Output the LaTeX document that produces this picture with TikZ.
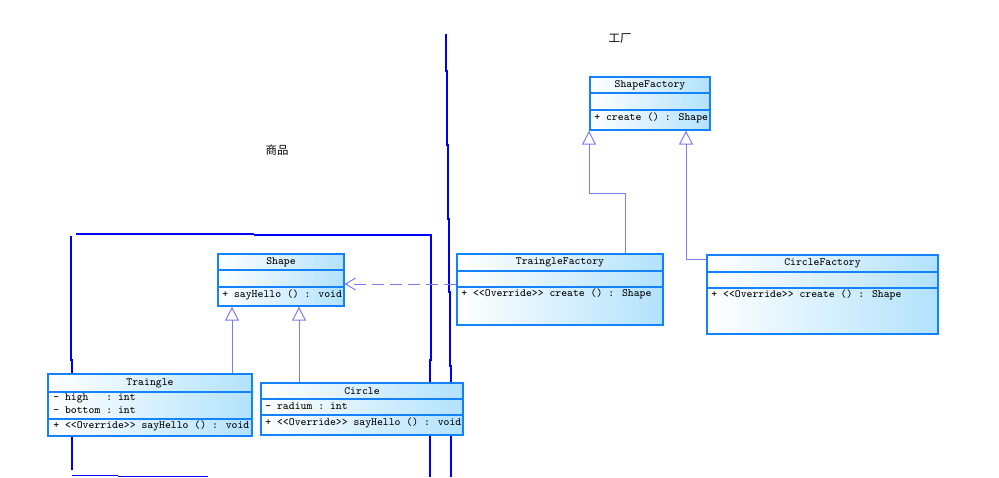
\documentclass[tikz,border=0pt]{standalone}
\usepackage{fontspec}
\newfontfamily\cjk{Noto Sans CJK SC}
\usetikzlibrary{arrows.meta,fit}
\definecolor{umlborder}{RGB}{20,130,250}
\definecolor{umlfill}{RGB}{178,226,252}
\definecolor{umlline}{RGB}{125,125,240}
\definecolor{inkblue}{RGB}{0,0,250}
\begin{document}
\begin{tikzpicture}[x=0.2mm, y=-0.2mm,
  umlbox/.style={draw=umlborder, line width=0.25mm, left color=white, right color=umlfill, inner sep=0pt},
  cname/.style={font=\fontsize{6.3}{7}\selectfont\ttfamily, inner sep=0pt},
  member/.style={cname, anchor=west},
  gen/.style={umlline, line width=0.2mm, -{Triangle[open, length=2.8mm, width=2.8mm]}},
  dep/.style={umlline, line width=0.2mm, dash pattern=on 2.4mm off 1.2mm, -{Straight Barb[length=2mm, width=2.4mm]}},
  scribble/.style={inkblue, line width=0.3mm}]
  \useasboundingbox (0,0) rectangle (999,477);
  % hand drawn frames
  \draw[scribble] (446,34) -- (446,71) -- (447,71) -- (447,145) -- (448,145) -- (448,219) -- (449,219)
    -- (449,292) -- (450,292) -- (450,366) -- (451,366) -- (451,477);
  \draw[scribble] (76,234) -- (254,234) (254,235) -- (432,235);
  \draw[scribble] (431,235) -- (431,360) -- (430,360) -- (430,477);
  \draw[scribble] (71,236) -- (71,360) -- (72,360) -- (72,470);
  \draw[scribble] (72,475.5) -- (118,475.5) (118,476.3) -- (208,476.3);
  \node[font=\cjk\fontsize{6.5}{7}\selectfont, inner sep=0pt] (factory) at (620,39) {工厂};
  \node[font=\cjk\fontsize{6.5}{7}\selectfont, inner sep=0pt] (goods) at (277,150) {商品};
  % classes
  \foreach \n/\xa/\ya/\xb/\yb/\da/\db/\cls in {sf/590/77/710/130/93/110/ShapeFactory,
      sh/218/254/344/306/270/287/Shape, tr/48/374/252/436/392/419/Traingle,
      ci/261/383/463/435/399/415/Circle, tf/457/254/663/325/271/287/TraingleFactory,
      cf/707/255/938/334/272/288/CircleFactory} {
    \node[umlbox, fit={(\xa,\ya)(\xb,\yb)}] (\n) {};
    \draw[umlborder, line width=0.25mm] (\n.west |- 0,\da) -- (\n.east |- 0,\da) (\n.west |- 0,\db) -- (\n.east |- 0,\db);
    \pgfmathsetmacro\ym{(\ya+\da)/2}
    \node[cname] (\n-t) at (\n.north |- 0,\ym) {\cls};
  }
  \node[member] (sf-op) at (594,118) {+ create () : Shape};
  \node[member] (sh-op) at (222,295) {+ sayHello () : void};
  \node[member] (tr-a1) at (53,398) {-~high~~~:~int};
  \node[member] (tr-a2) at (53,410) {-~bottom~:~int};
  \node[member] (tr-op) at (53,426) {+ {<}{<}Override{>}{>} sayHello () : void};
  \node[member] (ci-a1) at (265,406) {-~radium~:~int};
  \node[member] (ci-op) at (265,423) {+ {<}{<}Override{>}{>} sayHello () : void};
  \node[member] (tf-op) at (461,294) {+ {<}{<}Override{>}{>} create () : Shape};
  \node[member] (cf-op) at (711,295) {+ {<}{<}Override{>}{>} create () : Shape};
  % relations
  \draw[gen] (232,0 |- tr.north) -- (232,0 |- sh.south);
  \draw[gen] (299,0 |- ci.north) -- (299,0 |- sh.south);
  \draw[gen] (625,0 |- tf.north) |- (589,193) -- (589,0 |- sf.south);
  \draw[gen] (cf.west |- 0,259) -| (686,0 |- sf.south);
  \draw[dep] (tf.west |- 0,284) -- (sh.east |- 0,284);
\end{tikzpicture}
\end{document}
